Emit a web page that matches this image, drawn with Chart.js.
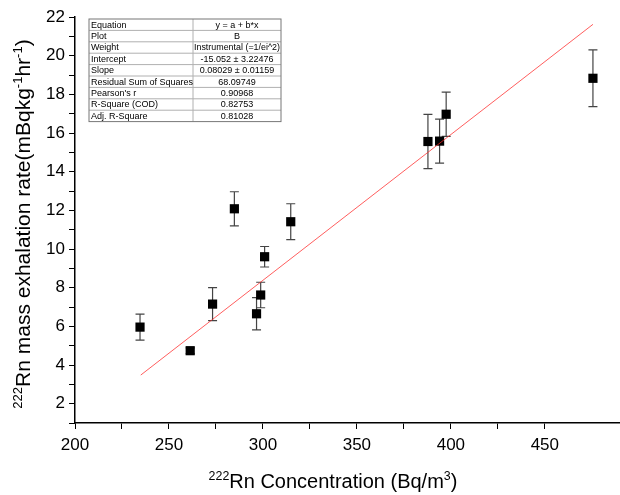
<!DOCTYPE html>
<html>
<head>
<meta charset="utf-8">
<script src="https://cdn.jsdelivr.net/npm/chart.js@4.4.0/dist/chart.umd.min.js"></script>
<style>
  body { margin: 0; background: #fff; }
  #wrap { width: 620px; height: 495px; }
</style>
</head>
<body>
<div id="wrap"><canvas id="myChart" width="620" height="495"></canvas></div>
<script>
// DATA
const concentration = [234.6, 261.3, 273.2, 284.8, 296.6, 298.8, 300.9, 314.8, 387.8, 394.0, 397.5, 475.6];
const exhalation = [5.96, 4.74, 7.15, 12.08, 6.65, 7.62, 9.60, 11.41, 15.56, 15.58, 16.97, 18.83];
const exhalationErr = [0.67, 0.15, 0.85, 0.88, 0.83, 0.66, 0.53, 0.93, 1.40, 1.14, 1.14, 1.47];
const fitX = [235.0, 475.6];
const fitY = [3.48, 21.62];
const xTicks = [200, 250, 300, 350, 400, 450];
const yTicks = [2, 4, 6, 8, 10, 12, 14, 16, 18, 20, 22];
const tableRows = [
  ["Equation", "y = a + b*x"],
  ["Plot", "B"],
  ["Weight", "Instrumental (=1/ei^2)"],
  ["Intercept", "-15.052 \u00b1 3.22476"],
  ["Slope", "0.08029 \u00b1 0.01159"],
  ["Residual Sum of Squares", "68.09749"],
  ["Pearson's r", "0.90968"],
  ["R-Square (COD)", "0.82753"],
  ["Adj. R-Square", "0.81028"],
];

const FONT = "'Liberation Sans', Arial, sans-serif";

// error bars behind the squares
const errorBars = {
  id: "errorBars",
  beforeDatasetsDraw(chart) {
    const ctx = chart.ctx;
    const xs = chart.scales.x, ys = chart.scales.y;
    ctx.save();
    ctx.strokeStyle = "#444";
    ctx.lineWidth = 1.2;
    concentration.forEach((c, i) => {
      const px = xs.getPixelForValue(c);
      const top = ys.getPixelForValue(exhalation[i] + exhalationErr[i]);
      const bot = ys.getPixelForValue(exhalation[i] - exhalationErr[i]);
      ctx.beginPath();
      ctx.moveTo(px, top); ctx.lineTo(px, bot);
      ctx.moveTo(px - 4.5, top); ctx.lineTo(px + 4.5, top);
      ctx.moveTo(px - 4.5, bot); ctx.lineTo(px + 4.5, bot);
      ctx.stroke();
    });
    ctx.restore();
  },
};

// titles with superscripts
function drawRich(ctx, parts, size) {
  let total = 0;
  parts.forEach((p) => {
    ctx.font = (p.sup ? size * 0.62 : size) + "px " + FONT;
    p.w = ctx.measureText(p.t).width;
    total += p.w;
  });
  let x = -total / 2;
  parts.forEach((p) => {
    ctx.font = (p.sup ? size * 0.62 : size) + "px " + FONT;
    ctx.fillText(p.t, x, p.sup ? -size * 0.38 : 0);
    x += p.w;
  });
}

const titles = {
  id: "titles",
  afterDraw(chart) {
    const ctx = chart.ctx;
    ctx.save();
    ctx.fillStyle = "#000";
    ctx.textBaseline = "alphabetic";
    ctx.textAlign = "left";
    ctx.translate(333, 488);
    drawRich(ctx, [{ t: "222", sup: true }, { t: "Rn Concentration (Bq/m" }, { t: "3", sup: true }, { t: ")" }], 20);
    ctx.restore();

    ctx.save();
    ctx.fillStyle = "#000";
    ctx.textBaseline = "alphabetic";
    ctx.textAlign = "left";
    ctx.translate(30, 224);
    ctx.rotate(-Math.PI / 2);
    drawRich(ctx, [
      { t: "222", sup: true }, { t: "Rn mass exhalation rate(mBqkg" },
      { t: "-1", sup: true }, { t: "hr" }, { t: "-1", sup: true }, { t: ")" },
    ], 21);
    ctx.restore();
  },
};

// stats table in the top left
const statsTable = {
  id: "statsTable",
  afterDraw(chart) {
    const ctx = chart.ctx;
    const left = 89, top = 19, c1 = 104, c2 = 88, rowH = 11.4;
    const h = rowH * tableRows.length;
    ctx.save();
    ctx.fillStyle = "#fff";
    ctx.fillRect(left, top, c1 + c2, h);
    ctx.strokeStyle = "#b0b0b0";
    ctx.lineWidth = 1;
    for (let r = 1; r < tableRows.length; r++) {
      ctx.beginPath();
      ctx.moveTo(left, top + r * rowH); ctx.lineTo(left + c1 + c2, top + r * rowH);
      ctx.stroke();
    }
    ctx.beginPath();
    ctx.moveTo(left + c1, top); ctx.lineTo(left + c1, top + h);
    ctx.stroke();
    ctx.strokeStyle = "#777";
    ctx.strokeRect(left, top, c1 + c2, h);
    ctx.fillStyle = "#000";
    ctx.font = "9px " + FONT;
    ctx.textBaseline = "middle";
    tableRows.forEach((row, r) => {
      const y = top + r * rowH + rowH / 2 + 0.5;
      ctx.textAlign = "left";
      ctx.fillText(row[0], left + 2, y);
      ctx.textAlign = "center";
      ctx.fillText(row[1], left + c1 + c2 / 2, y, c2 - 2);
    });
    ctx.restore();
  },
};

const ctx = document.getElementById("myChart").getContext("2d");
const myChart = new Chart(ctx, {
  type: "scatter",
  data: {
    datasets: [
      {
        label: "fit",
        type: "line",
        data: fitX.map((x, i) => ({ x: x, y: fitY[i] })),
        borderColor: "rgba(255, 40, 40, 0.75)",
        borderWidth: 1,
        pointRadius: 0,
        fill: false,
        order: 0,
      },
      {
        label: "B",
        data: concentration.map((x, i) => ({ x: x, y: exhalation[i] })),
        pointStyle: "rect",
        pointRadius: 6.5,
        pointHoverRadius: 6.5,
        backgroundColor: "#000",
        borderColor: "#000",
        borderWidth: 0,
        order: 1,
      },
    ],
  },
  options: {
    responsive: false,
    animation: false,
    layout: { autoPadding: false, padding: { top: 17, right: 0, left: 0, bottom: 0 } },
    plugins: { legend: { display: false }, tooltip: { enabled: false } },
    scales: {
      x: {
        type: "linear",
        min: 200,
        max: 490,
        afterFit: (s) => { s.height = 72; },
        afterBuildTicks: (s) => {
          s.ticks = s.ticks.filter((t) => t.value % 25 === 0);
        },
        border: { color: "#000", width: 1.5 },
        grid: { drawOnChartArea: false, tickLength: 6, color: "#000", tickColor: "#000" },
        ticks: {
          stepSize: 25,
          autoSkip: false,
          maxRotation: 0,
          padding: 6,
          color: "#000",
          font: { family: FONT, size: 17 },
          callback: (v) => (xTicks.includes(v) ? String(v) : ""),
        },
      },
      y: {
        min: 1,
        max: 22,
        afterFit: (s) => { s.width = 75; },
        border: { color: "#000", width: 1.5 },
        grid: { drawOnChartArea: false, tickLength: 6, color: "#000", tickColor: "#000" },
        ticks: {
          stepSize: 1,
          autoSkip: false,
          padding: 4,
          color: "#000",
          font: { family: FONT, size: 17 },
          callback: (v) => (yTicks.includes(v) ? String(v) : ""),
        },
      },
    },
  },
  plugins: [errorBars, titles, statsTable],
});
</script>
</body>
</html>
